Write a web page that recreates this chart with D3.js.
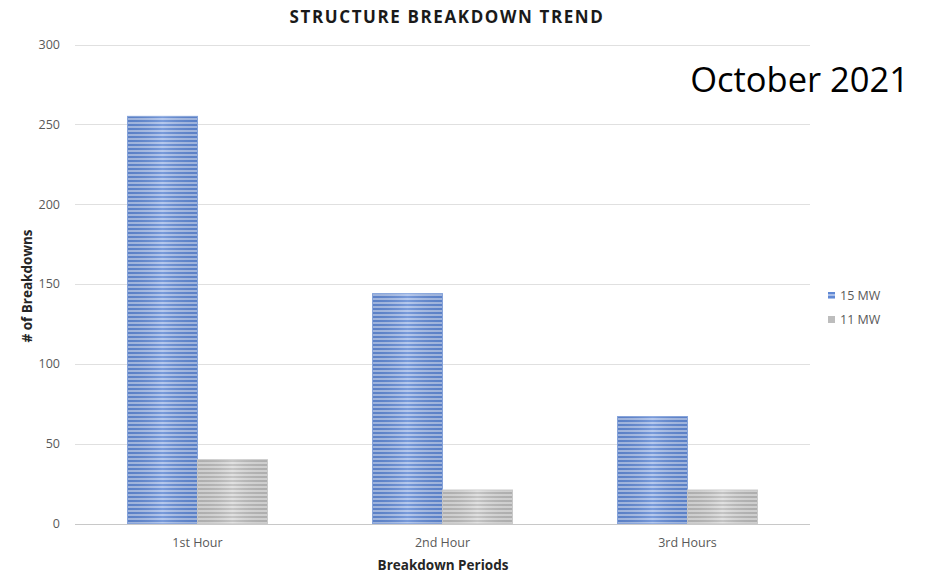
<!DOCTYPE html>
<html><head><meta charset="utf-8">
<script src="https://cdn.jsdelivr.net/npm/d3@7"></script>
<style>body{margin:0;background:#fff;} svg{display:block;font-family:"Open Sans","Liberation Sans",sans-serif;}</style>
</head><body><svg id="c" width="930" height="573"></svg>
<script>
const categories = ["1st Hour", "2nd Hour", "3rd Hours"];
const seriesNames = ["15 MW", "11 MW"];
const values15 = [255, 144, 67];
const values11 = [40, 21, 21];
const yTicks = [0, 50, 100, 150, 200, 250, 300];

const svg = d3.select("#c");
const m = {l: 75, r: 120, t: 44.5, b: 49.5};
const W = 930, H = 573;
const x = d3.scaleBand().domain(categories).range([m.l, W - m.r]).paddingInner(0).paddingOuter(0);
const x1 = d3.scaleBand().domain(seriesNames).range([0, x.bandwidth()]).paddingOuter(0.75).paddingInner(0);
const y = d3.scaleLinear().domain([0, 300]).range([H - m.b, m.t]);

const defs = svg.append("defs");
function mkPattern(id, dark, light) {
  const p = defs.append("pattern").attr("id", id).attr("patternUnits", "userSpaceOnUse").attr("width", 4).attr("height", 4);
  p.append("rect").attr("width", 4).attr("height", 4).attr("fill", dark);
  p.append("rect").attr("y", 2).attr("width", 4).attr("height", 2).attr("fill", light);
}
mkPattern("pBlue", "#6189d4", "#a9bfea");
mkPattern("pGray", "#bababa", "#dcdcdc");
const g = defs.append("linearGradient").attr("id", "shade").attr("x1", 0).attr("x2", 1).attr("y1", 0).attr("y2", 0);
g.append("stop").attr("offset", "0").attr("stop-color", "#000").attr("stop-opacity", 0.06);
g.append("stop").attr("offset", "0.5").attr("stop-color", "#fff").attr("stop-opacity", 0.15);
g.append("stop").attr("offset", "1").attr("stop-color", "#000").attr("stop-opacity", 0.06);

// gridlines
svg.append("g").selectAll("line").data(yTicks).join("line")
  .attr("x1", m.l).attr("x2", W - m.r)
  .attr("y1", d => Math.round(y(d)) + 0.5).attr("y2", d => Math.round(y(d)) + 0.5)
  .attr("stroke", d => d === 0 ? "#c8c8c8" : "#e0e0e0").attr("stroke-width", 1);

// y tick labels
svg.append("g").selectAll("text").data(yTicks).join("text")
  .attr("x", 60).attr("y", d => y(d)).attr("dy", "0.35em").attr("text-anchor", "end")
  .attr("font-size", 12.5).attr("fill", "#595959").text(d => d);

// bars
const data = categories.map((c, i) => ({c, vals: [{s: seriesNames[0], v: values15[i]}, {s: seriesNames[1], v: values11[i]}]}));
const groups = svg.append("g").selectAll("g").data(data).join("g").attr("transform", d => `translate(${x(d.c)},0)`);
groups.selectAll("rect.bar").data(d => d.vals).join("rect").attr("class", "bar")
  .attr("x", d => x1(d.s)).attr("width", x1.bandwidth())
  .attr("y", d => y(d.v)).attr("height", d => y(0) - y(d.v))
  .attr("fill", d => d.s === seriesNames[0] ? "url(#pBlue)" : "url(#pGray)")
  .attr("stroke", d => d.s === seriesNames[0] ? "#8aa8e0" : "#cfcfcf").attr("stroke-width", 1);
groups.selectAll("rect.sh").data(d => d.vals).join("rect").attr("class", "sh")
  .attr("x", d => x1(d.s)).attr("width", x1.bandwidth())
  .attr("y", d => y(d.v)).attr("height", d => y(0) - y(d.v))
  .attr("fill", "url(#shade)");

// x labels
svg.append("g").selectAll("text").data(categories).join("text")
  .attr("x", d => x(d) + x.bandwidth() / 2).attr("y", 547).attr("text-anchor", "middle")
  .attr("font-size", 12.5).attr("fill", "#595959").text(d => d);

// axis titles
svg.append("text").attr("x", 443).attr("y", 570).attr("text-anchor", "middle")
  .attr("font-size", 13.5).attr("font-weight", "bold").attr("fill", "#262626").text("Breakdown Periods");
svg.append("text").attr("transform", "translate(32,286) rotate(-90)").attr("text-anchor", "middle")
  .attr("font-size", 13.5).attr("font-weight", "bold").attr("fill", "#262626").text("# of Breakdowns");

// title
svg.append("text").attr("x", 447).attr("y", 23).attr("text-anchor", "middle")
  .attr("font-size", 17).attr("font-weight", "bold").attr("letter-spacing", 1.6).attr("fill", "#1a1a1a")
  .text("STRUCTURE BREAKDOWN TREND");

// October
svg.append("text").attr("x", 909).attr("y", 92).attr("text-anchor", "end")
  .attr("font-size", 34.5).attr("fill", "#000").text("October 2021");

// legend
const lg = svg.append("g").selectAll("g").data(seriesNames).join("g")
  .attr("transform", (d, i) => `translate(828,${296 + i * 24})`);
lg.append("rect").attr("x", 0).attr("y", -4).attr("width", 7).attr("height", 7)
  .attr("fill", (d, i) => i === 0 ? "url(#pBlue)" : "#bdbdbd");
lg.append("text").attr("x", 12).attr("y", 0).attr("dy", "0.35em").attr("font-size", 12.5).attr("fill", "#595959").text(d => d);
</script></body></html>
